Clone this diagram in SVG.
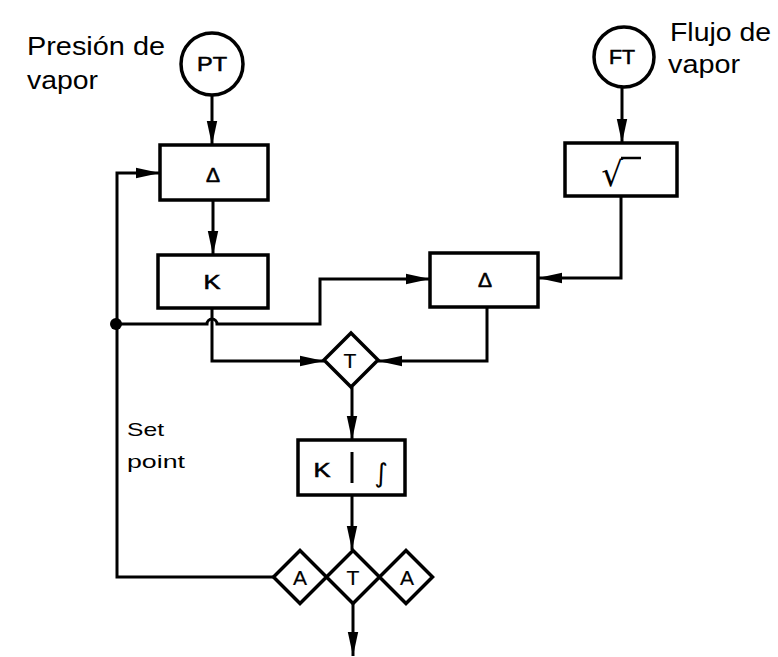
<svg xmlns="http://www.w3.org/2000/svg" width="778" height="657" viewBox="0 0 778 657">
<defs>
<marker id="ah" markerUnits="userSpaceOnUse" markerWidth="26" markerHeight="14" refX="24" refY="7" orient="auto">
<path d="M0,1.8 L24,7 L0,12.2 Z" fill="#000"/>
</marker>
<style>
.shape{fill:#fff;stroke:#000;stroke-width:3.5}
.wire{fill:none;stroke:#000;stroke-width:3}
.lbl{font-family:"Liberation Sans",Arial,sans-serif;fill:#000}
.in{font-family:"Liberation Sans",Arial,sans-serif;font-size:21px;fill:#000;stroke:#000;stroke-width:0.6;text-anchor:middle}
.dl{font-family:"Liberation Sans",Arial,sans-serif;font-size:21px;fill:#000;stroke:#000;stroke-width:0.2;text-anchor:middle}
.sym{font-family:"DejaVu Sans",sans-serif;fill:#000;text-anchor:middle}
</style>
</defs>
<rect width="778" height="657" fill="#fff"/>
<g id="connectors">
<path class="wire" d="M212,95 V145" marker-end="url(#ah)"/>
<path class="wire" d="M213,200 V255" marker-end="url(#ah)"/>
<path class="wire" d="M622,88 V143" marker-end="url(#ah)"/>
<path class="wire" d="M621,196 V278 H538" marker-end="url(#ah)"/>
<path class="wire" d="M116,324 H207 A5,5 0 0 1 217,324 H320 V279 H430" marker-end="url(#ah)"/>
<path class="wire" d="M212,308 V361 H324" marker-end="url(#ah)"/>
<path class="wire" d="M487,307 V361 H378" marker-end="url(#ah)"/>
<path class="wire" d="M352,387 V440" marker-end="url(#ah)"/>
<path class="wire" d="M352,495 V550" marker-end="url(#ah)"/>
<path class="wire" d="M273,577 H117 V173 H160" marker-end="url(#ah)"/>
<path class="wire" d="M353,603 V656" marker-end="url(#ah)"/>
<circle cx="116" cy="324" r="6" fill="#000"/>
</g>
<g id="PT">
<circle class="shape" cx="212" cy="64" r="31"/>
<text class="in" x="212" y="71" textLength="30" lengthAdjust="spacingAndGlyphs">PT</text>
</g>
<g id="FT">
<circle class="shape" cx="624" cy="57" r="30"/>
<text class="in" x="622" y="64" textLength="26" lengthAdjust="spacingAndGlyphs">FT</text>
</g>
<g id="delta1">
<rect class="shape" x="160" y="145" width="108" height="55"/>
<text class="in" x="213" y="182">Δ</text>
</g>
<g id="K1">
<rect class="shape" x="158" y="255" width="110" height="53"/>
<text class="in" x="212" y="289" textLength="17" lengthAdjust="spacingAndGlyphs">K</text>
</g>
<g id="sqrt">
<rect class="shape" x="565" y="143" width="112" height="53"/>
<text class="sym" x="612" y="186" font-size="34">√</text>
<line x1="621" y1="158" x2="641" y2="158" stroke="#000" stroke-width="2.5"/>
</g>
<g id="delta2">
<rect class="shape" x="430" y="253" width="108" height="54"/>
<text class="in" x="485" y="287">Δ</text>
</g>
<g id="T1">
<path class="shape" d="M351,333 L378,360 L351,387 L324,360 Z"/>
<text class="dl" x="350" y="368">T</text>
</g>
<g id="KI">
<rect class="shape" x="298" y="440" width="107" height="55"/>
<line x1="352" y1="452" x2="352" y2="483" stroke="#000" stroke-width="3"/>
<text class="in" x="322" y="477" textLength="17" lengthAdjust="spacingAndGlyphs">K</text>
<text class="sym" x="381" y="482" font-size="26">∫</text>
</g>
<g id="A1">
<path class="shape" d="M300,550.5 L326.5,577 L300,603.5 L273.5,577 Z"/>
<text class="dl" x="300" y="585">A</text>
</g>
<g id="T2">
<path class="shape" d="M353,550.5 L379.5,577 L353,603.5 L326.5,577 Z"/>
<text class="dl" x="353" y="585">T</text>
</g>
<g id="A2">
<path class="shape" d="M406,550.5 L432.5,577 L406,603.5 L379.5,577 Z"/>
<text class="dl" x="407" y="585">A</text>
</g>
<g id="labels">
<text class="lbl" x="27" y="55" font-size="25" textLength="138" lengthAdjust="spacingAndGlyphs">Presión de</text>
<text class="lbl" x="27" y="89" font-size="25" textLength="71" lengthAdjust="spacingAndGlyphs">vapor</text>
<text class="lbl" x="670" y="41" font-size="25" textLength="101" lengthAdjust="spacingAndGlyphs">Flujo de</text>
<text class="lbl" x="668" y="73" font-size="25" textLength="72" lengthAdjust="spacingAndGlyphs">vapor</text>
<text class="lbl" x="127" y="436" font-size="19" textLength="37" lengthAdjust="spacingAndGlyphs">Set</text>
<text class="lbl" x="127" y="468" font-size="19" textLength="58" lengthAdjust="spacingAndGlyphs">point</text>
</g>
</svg>
